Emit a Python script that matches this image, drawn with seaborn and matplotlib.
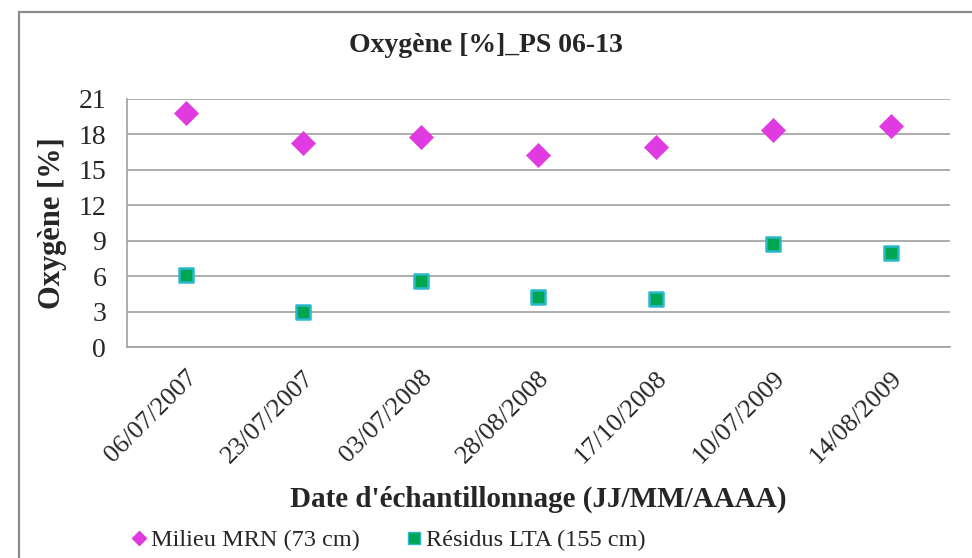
import numpy as np
import pandas as pd
import matplotlib
matplotlib.use("Agg")
import matplotlib.pyplot as plt
import seaborn as sns
from matplotlib.patches import Rectangle
from matplotlib.lines import Line2D

# --- DATA ---
dates = ["06/07/2007", "23/07/2007", "03/07/2008", "28/08/2008",
         "17/10/2008", "10/07/2009", "14/08/2009"]
milieu_mrn = [19.8, 17.3, 17.8, 16.3, 16.9, 18.4, 18.7]
residus_lta = [6.1, 3.0, 5.6, 4.2, 4.1, 8.7, 8.0]
y_ticks = [0, 3, 6, 9, 12, 15, 18, 21]

label_mrn = "Milieu MRN (73 cm)"
label_lta = "Résidus LTA (155 cm)"

MAGENTA = "#E03BE0"
GREEN = "#00A651"
CYAN = "#2BB8CC"
GRID = "#A0A0A0"


def main():
    sns.set_style("white")
    plt.rcParams["font.family"] = ["Liberation Serif", "DejaVu Serif"]

    df = pd.DataFrame({"date": dates, "mrn": milieu_mrn, "lta": residus_lta})
    df["pos"] = np.arange(len(dates))

    fig = plt.figure(figsize=(9.72, 5.58), dpi=100)
    ax = fig.add_axes([0.1307, 0.378, 0.977 - 0.1307, 0.8226 - 0.378])

    # outer chart frame
    fig.patches.append(Rectangle((19 / 972, -0.05), 1.2, 1 - 12 / 558 + 0.05,
                                 transform=fig.transFigure, fill=False,
                                 edgecolor="#8C8C8C", linewidth=1.6))

    sns.scatterplot(data=df, x="pos", y="mrn", ax=ax, marker="D", s=150,
                    color=MAGENTA, edgecolor=MAGENTA, linewidth=0.5, zorder=3)
    sns.scatterplot(data=df, x="pos", y="lta", ax=ax, marker="s", s=110,
                    color=GREEN, edgecolor=CYAN, linewidth=1.8, zorder=3)

    ax.set_xlim(-0.5, len(dates) - 0.5)
    ax.set_ylim(0, 21)
    ax.set_yticks(y_ticks)
    ax.set_yticklabels([str(v) for v in y_ticks], fontsize=20)
    ax.set_xticks(df["pos"])
    ax.set_xticklabels(dates, rotation=45, ha="right", rotation_mode="anchor",
                       fontsize=19)
    ax.set_xticks(np.arange(-0.5, len(dates)), minor=True)
    ax.tick_params(axis="x", which="major", length=0, pad=14)
    ax.tick_params(axis="x", which="minor", length=7, color=GRID, width=1.2,
                   direction="out")
    ax.tick_params(axis="y", length=5, color=GRID, width=1.2, direction="out",
                   pad=10)

    ax.yaxis.grid(True, color=GRID, linewidth=1.2)
    ax.xaxis.grid(False)
    ax.set_axisbelow(True)
    for side in ["top", "right"]:
        ax.spines[side].set_visible(False)
    for side in ["left", "bottom"]:
        ax.spines[side].set_color(GRID)
        ax.spines[side].set_linewidth(1.2)

    ax.set_xlabel("Date d'échantillonnage (JJ/MM/AAAA)", fontsize=21,
                  fontweight="bold", labelpad=13)
    ax.set_ylabel("Oxygène [%]", fontsize=22, fontweight="bold", labelpad=8)
    fig.text(0.5, 1 - 45 / 558, "Oxygène [%]_PS 06-13", ha="center",
             va="center", fontsize=20, fontweight="bold")

    handles = [
        Line2D([], [], marker="D", linestyle="none", color=MAGENTA,
               markersize=7, label=label_mrn),
        Line2D([], [], marker="s", linestyle="none", markerfacecolor=GREEN,
               markeredgecolor=CYAN, markersize=8, label=label_lta),
    ]
    fig.legend(handles=handles, loc="center left",
               bbox_to_anchor=(132 / 972, 1 - 540 / 558), ncol=2,
               frameon=False, fontsize=17.5, handlelength=0.6,
               handletextpad=0.2, columnspacing=1.9, borderpad=0,
               borderaxespad=0)

    fig.savefig("out.png", dpi=100)


if __name__ == "__main__":
    main()
